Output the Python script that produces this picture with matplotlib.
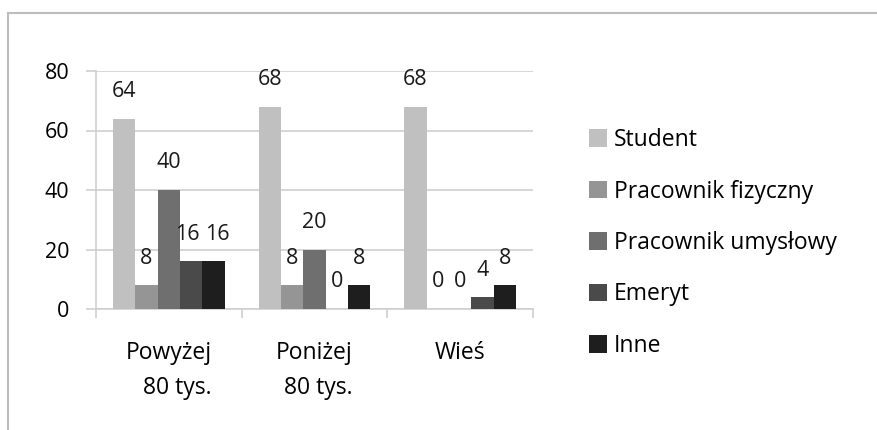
import matplotlib
matplotlib.use("Agg")
import matplotlib.pyplot as plt
import numpy as np
from matplotlib.lines import Line2D

plt.rcParams['font.family'] = ['Open Sans', 'DejaVu Sans']

# data
categories = ["Powyżej\n80 tys.", "Poniżej\n80 tys.", "Wieś"]
series = ["Student", "Pracownik fizyczny", "Pracownik umysłowy", "Emeryt", "Inne"]
student = [64, 68, 68]
fizyczny = [8, 8, 0]
umyslowy = [40, 20, 0]
emeryt = [16, 0, 4]
inne = [16, 8, 8]
values = [student, fizyczny, umyslowy, emeryt, inne]
colors = ["#c0c0c0", "#959595", "#6f6f6f", "#4a4a4a", "#1e1e1e"]

W, H = 878, 430
fig = plt.figure(figsize=(W / 100, H / 100), dpi=100)
ax = fig.add_axes([96 / W, 1 - 309 / H, (533 - 96) / W, (309 - 71) / H])

fs = 15.5
fs_text = 16.5
grid_c = "#cfcfcf"
x = np.arange(len(categories))
bw = 0.767 / len(series)

for i, (name, vals, col) in enumerate(zip(series, values, colors)):
    pos = x - 0.767 / 2 + bw * (i + 0.5)
    ax.bar(pos, vals, width=bw, color=col, label=name, zorder=3)
    for g, (px, v) in enumerate(zip(pos, vals)):
        # push apart two-digit labels that sit next to each other at the same height
        dx = 0
        if v >= 10:
            if i > 0 and values[i - 1][g] == v:
                dx = 3
            elif i < len(series) - 1 and values[i + 1][g] == v:
                dx = -3
        ax.annotate(str(v), (px, v), xytext=(dx, 15.5), textcoords="offset points",
                    ha="center", va="baseline", fontsize=fs, color="#1a1a1a")

ax.set_xlim(-0.5, len(categories) - 0.5)
ax.set_ylim(0, 80)
ax.set_yticks([0, 20, 40, 60, 80])
ax.yaxis.grid(True, color=grid_c, lw=1.2, zorder=0)
ax.tick_params(axis="y", length=7, color=grid_c, width=1.2, pad=12, labelsize=fs)

ax.set_xticks(x)
ax.set_xticklabels(categories, fontsize=fs_text, multialignment="right", linespacing=1.6)
ax.set_xticks(np.arange(len(categories) + 1) - 0.5, minor=True)
ax.tick_params(axis="x", which="major", length=0, pad=23)
ax.tick_params(axis="x", which="minor", length=6.5, color=grid_c, width=1.2)

for s in ["top", "right"]:
    ax.spines[s].set_visible(False)
for s in ["left", "bottom"]:
    ax.spines[s].set_color(grid_c)
    ax.spines[s].set_linewidth(1.2)

fig.legend(loc="upper left", bbox_to_anchor=(589 / W, 1 - 128 / H), frameon=False,
           fontsize=fs_text, handlelength=0.8, handleheight=0.8, handletextpad=0.3,
           labelspacing=1.2, borderpad=0, borderaxespad=0)

# outer frame
fig.add_artist(Line2D([8 / W, 1], [1 - 13 / H, 1 - 13 / H], transform=fig.transFigure,
                      color="#bdbdbd", lw=1.5))
fig.add_artist(Line2D([8 / W, 8 / W], [0, 1 - 13 / H], transform=fig.transFigure,
                      color="#bdbdbd", lw=1.5))

fig.savefig("out.png", dpi=100)
